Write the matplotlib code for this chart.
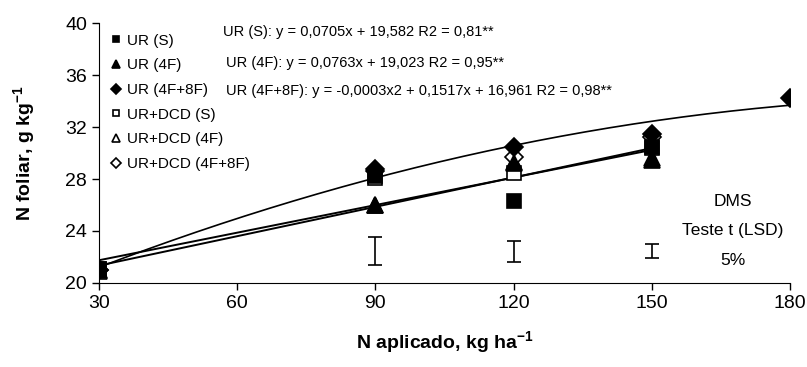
import numpy as np
import matplotlib
matplotlib.use("Agg")
import matplotlib.pyplot as plt
from matplotlib.lines import Line2D

plt.rcParams["font.family"] = ["Liberation Sans", "DejaVu Sans"]

# N applied (kg/ha)
doses = [30, 90, 120, 150, 180]

# N foliar (g/kg)
ur_s = [21.1, 28.2, 26.3, 30.5]
ur_4f = [21.0, 26.0, 29.2, 29.5]
ur_4f8f = [21.0, 28.8, 30.5, 31.5, 34.2]
dcd_s = [21.1, 28.1, 28.5, 30.4]
dcd_4f = [20.9, 26.0, 29.3, 29.6]
dcd_4f8f = [21.0, 28.6, 29.7, 31.2]

# LSD bars
lsd_x = [90, 120, 150]
lsd_lo = [21.4, 21.6, 21.9]
lsd_hi = [23.5, 23.2, 23.0]

eq_texts = [
    "UR (S): y = 0,0705x + 19,582 R2 = 0,81**",
    "UR (4F): y = 0,0763x + 19,023 R2 = 0,95**",
    "UR (4F+8F): y = -0,0003x2 + 0,1517x + 16,961 R2 = 0,98**",
]

fig = plt.figure(figsize=(8.07, 3.67), dpi=100)
ax = fig.add_axes([0.1227, 0.229, 0.8563, 0.708])

series = [
    ("UR (S)", ur_s, "s", "black"),
    ("UR (4F)", ur_4f, "^", "black"),
    ("UR (4F+8F)", ur_4f8f, "D", "black"),
    ("UR+DCD (S)", dcd_s, "s", "white"),
    ("UR+DCD (4F)", dcd_4f, "^", "white"),
    ("UR+DCD (4F+8F)", dcd_4f8f, "D", "white"),
]

# trend lines fitted on the UR series (Excel style)
for vals, deg, lw in [(ur_s, 1, 1.4), (ur_4f, 1, 1.4), (ur_4f8f, 2, 1.2)]:
    xs = np.array(doses[:len(vals)], dtype=float)
    coef = np.polyfit(xs, vals, deg)
    xx = np.linspace(xs[0], xs[-1], 200)
    ax.plot(xx, np.polyval(coef, xx), color="black", lw=lw, zorder=2)

big = {"s": 10, "^": 11, "D": 9}
small = {"s": 5, "^": 6, "D": 5}
handles = []
order = [3, 4, 5, 0, 1, 2]  # draw open markers below filled ones
for k in order:
    name, vals, mk, fc = series[k]
    ax.plot(doses[:len(vals)], vals, linestyle="none", marker=mk, ms=big[mk],
            mfc=fc, mec="black", mew=1.2, zorder=3)
for name, vals, mk, fc in series:
    handles.append(Line2D([], [], linestyle="none", marker=mk, ms=small[mk],
                          mfc=fc, mec="black", mew=1.2, label=name))

# LSD error bars
mid = [(a + b) / 2 for a, b in zip(lsd_lo, lsd_hi)]
half = [(b - a) / 2 for a, b in zip(lsd_lo, lsd_hi)]
ax.errorbar(lsd_x, mid, yerr=half, fmt="none", ecolor="black",
            elinewidth=1.2, capsize=5, capthick=1.2)

ax.legend(handles=handles, loc="upper left", bbox_to_anchor=(0.016, 0.96),
          frameon=False, fontsize=11, handlelength=0.8, handletextpad=0.3,
          labelspacing=0.7, borderpad=0, borderaxespad=0)

ax.text(0.179, 0.965, eq_texts[0], transform=ax.transAxes, fontsize=10.5,
        va="center", ha="left")
ax.text(0.184, 0.846, eq_texts[1], transform=ax.transAxes, fontsize=10.5,
        va="center", ha="left")
ax.text(0.184, 0.738, eq_texts[2], transform=ax.transAxes, fontsize=10.5,
        va="center", ha="left")

for txt, yv in [("DMS", 26.3), ("Teste t (LSD)", 24.0), ("5%", 21.7)]:
    ax.text(167.6, yv, txt, fontsize=12.5, ha="center", va="center")

ax.set_xlim(30, 180)
ax.set_ylim(20, 40)
ax.set_xticks([30, 60, 90, 120, 150, 180])
ax.set_yticks([20, 24, 28, 32, 36, 40])
ax.tick_params(labelsize=14, direction="out", length=5, width=1)
ax.spines["top"].set_visible(False)
ax.spines["right"].set_visible(False)

ax.set_xlabel("N aplicado, kg ha$^{\\mathregular{-1}}$", fontsize=14,
              fontweight="bold", labelpad=13)
ax.set_ylabel("N foliar, g kg$^{\\mathregular{-1}}$", fontsize=14,
              fontweight="bold", labelpad=20)

fig.savefig("out.png", dpi=100)
